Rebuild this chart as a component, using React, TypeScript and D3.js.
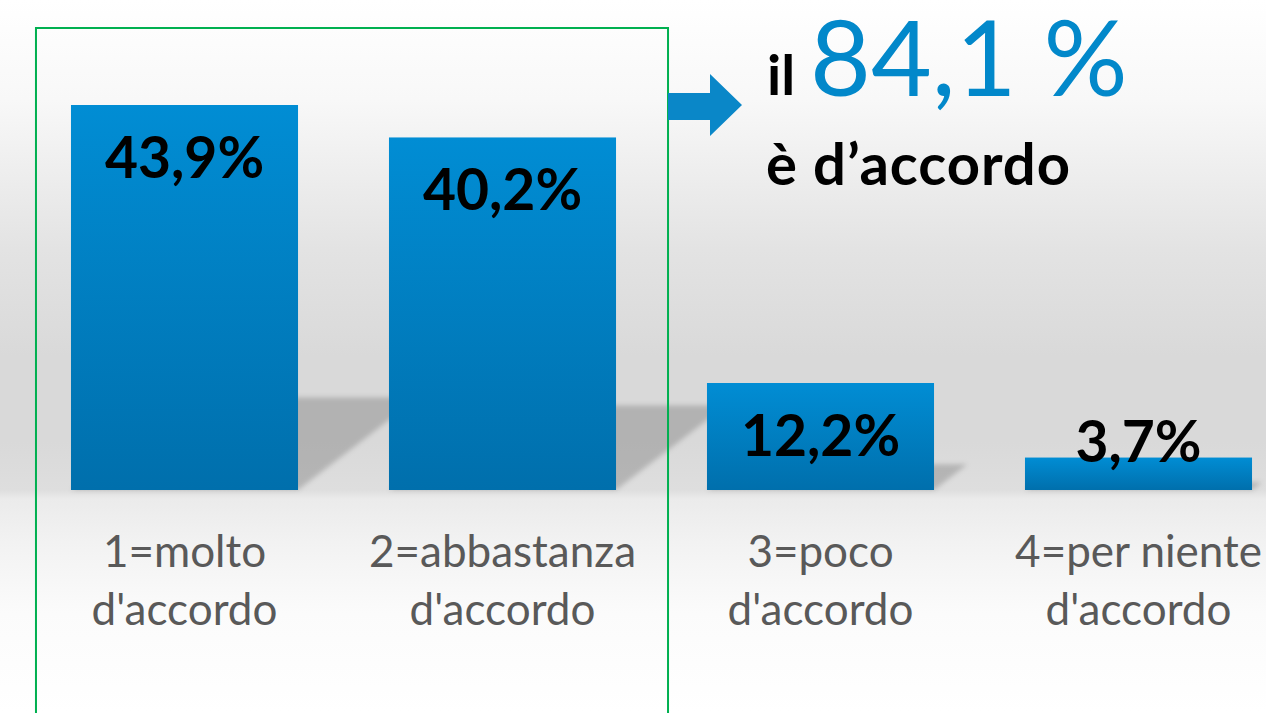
import React from "react";
import * as d3 from "d3";

// categories split on two lines, as in the source slide
const categories: string[][] = [
  ["1=molto", "d'accordo"],
  ["2=abbastanza", "d'accordo"],
  ["3=poco", "d'accordo"],
  ["4=per niente", "d'accordo"],
];
const values: number[] = [43.9, 40.2, 12.2, 3.7];
const agreeGroup: number[] = [0, 1]; // bars inside the green box

const fmt = (v: number) => v.toFixed(1).replace(".", ",");

const App: React.FC = () => {
  const width = 1266;
  const height = 713;
  const base = 490;
  const font = "Lato, 'Open Sans', sans-serif";

  const x = d3
    .scaleBand<number>()
    .domain(values.map((_, i) => i))
    .range([25.5, 1297.5])
    .paddingInner(0.286)
    .paddingOuter(0.143);

  const y = d3.scaleLinear().domain([0, 43.9]).range([base, 105]);

  const total = d3.sum(agreeGroup, (i) => values[i]);

  // green box around the "agree" bars
  const boxLeft = x(agreeGroup[0])! - 35;
  const boxRight = x(agreeGroup[agreeGroup.length - 1])! + x.bandwidth() + 52;

  return (
    <svg
      width={width}
      height={height}
      style={{ position: "absolute", left: 0, top: 0, display: "block" }}
    >
      <defs>
        <linearGradient id="bg" x1="0" y1="0" x2="0" y2="1">
          <stop offset="0" stopColor="#ffffff" />
          <stop offset="0.14" stopColor="#f8f8f8" />
          <stop offset="0.35" stopColor="#e3e3e3" />
          <stop offset="0.5" stopColor="#d9d9d9" />
          <stop offset="0.62" stopColor="#d9d9d9" />
          <stop offset="0.687" stopColor="#dedede" />
          <stop offset="0.70" stopColor="#ebebeb" />
          <stop offset="0.76" stopColor="#f2f2f2" />
          <stop offset="0.86" stopColor="#fbfbfb" />
          <stop offset="1" stopColor="#ffffff" />
        </linearGradient>
        <linearGradient id="bar" x1="0" y1="0" x2="0" y2="1">
          <stop offset="0" stopColor="#018dd4" />
          <stop offset="1" stopColor="#006fac" />
        </linearGradient>
        <filter id="blur" x="-20%" y="-20%" width="140%" height="140%">
          <feGaussianBlur stdDeviation="2.5" />
        </filter>
      </defs>

      <rect x={0} y={0} width={width} height={height} fill="url(#bg)" />

      {/* floor shadows */}
      <g filter="url(#blur)">
        {values.map((v, i) => {
          const xl = x(i)!;
          const xr = xl + x.bandwidth();
          const h = base - y(v);
          const s = h * 0.24;
          const dx = s * 1.3;
          const pts = [
            [xl + dx, base - s],
            [xr + dx, base - s],
            [xr, base],
            [xl, base],
          ];
          return (
            <polygon
              key={i}
              points={pts.map((p) => p.join(",")).join(" ")}
              fill="#000"
              fillOpacity={0.18}
            />
          );
        })}
      </g>

      {/* bars */}
      {values.map((v, i) => (
        <rect
          key={i}
          x={x(i)}
          y={y(v)}
          width={x.bandwidth()}
          height={base - y(v)}
          fill="url(#bar)"
        />
      ))}

      {/* value labels */}
      {values.map((v, i) => (
        <text
          key={i}
          x={x(i)! + x.bandwidth() / 2}
          y={Math.min(y(v) + 73, base - 28)}
          textAnchor="middle"
          fontFamily={font}
          fontWeight={700}
          fontSize={57}
          fill="#000"
        >
          {fmt(v) + "%"}
        </text>
      ))}

      {/* category labels */}
      {categories.map((lines, i) =>
        lines.map((line, j) => (
          <text
            key={`${i}-${j}`}
            x={x(i)! + x.bandwidth() / 2}
            y={567 + j * 58}
            textAnchor="middle"
            fontFamily={font}
            fontSize={44}
            fill="#595959"
          >
            {line}
          </text>
        ))
      )}

      <rect
        x={boxLeft}
        y={28}
        width={boxRight - boxLeft}
        height={720}
        fill="none"
        stroke="#00b050"
        strokeWidth={2}
      />

      {/* arrow */}
      <path
        d={`M${boxRight},93 H710 V74 L742,105 L710,136 V120 H${boxRight} Z`}
        fill="#0a87c8"
      />

      <text x={767} y={95} fontFamily={font} fontSize={56} fontWeight={700} fill="#000">
        il
      </text>
      <text x={810} y={96} fontFamily={font} fontSize={105} fill="#0288ca">
        {fmt(total) + " %"}
      </text>
      <text
        x={766}
        y={185}
        fontFamily={font}
        fontSize={58}
        fontWeight={700}
        letterSpacing={1}
        fill="#000"
      >
        è d’accordo
      </text>
    </svg>
  );
};

export default App;
